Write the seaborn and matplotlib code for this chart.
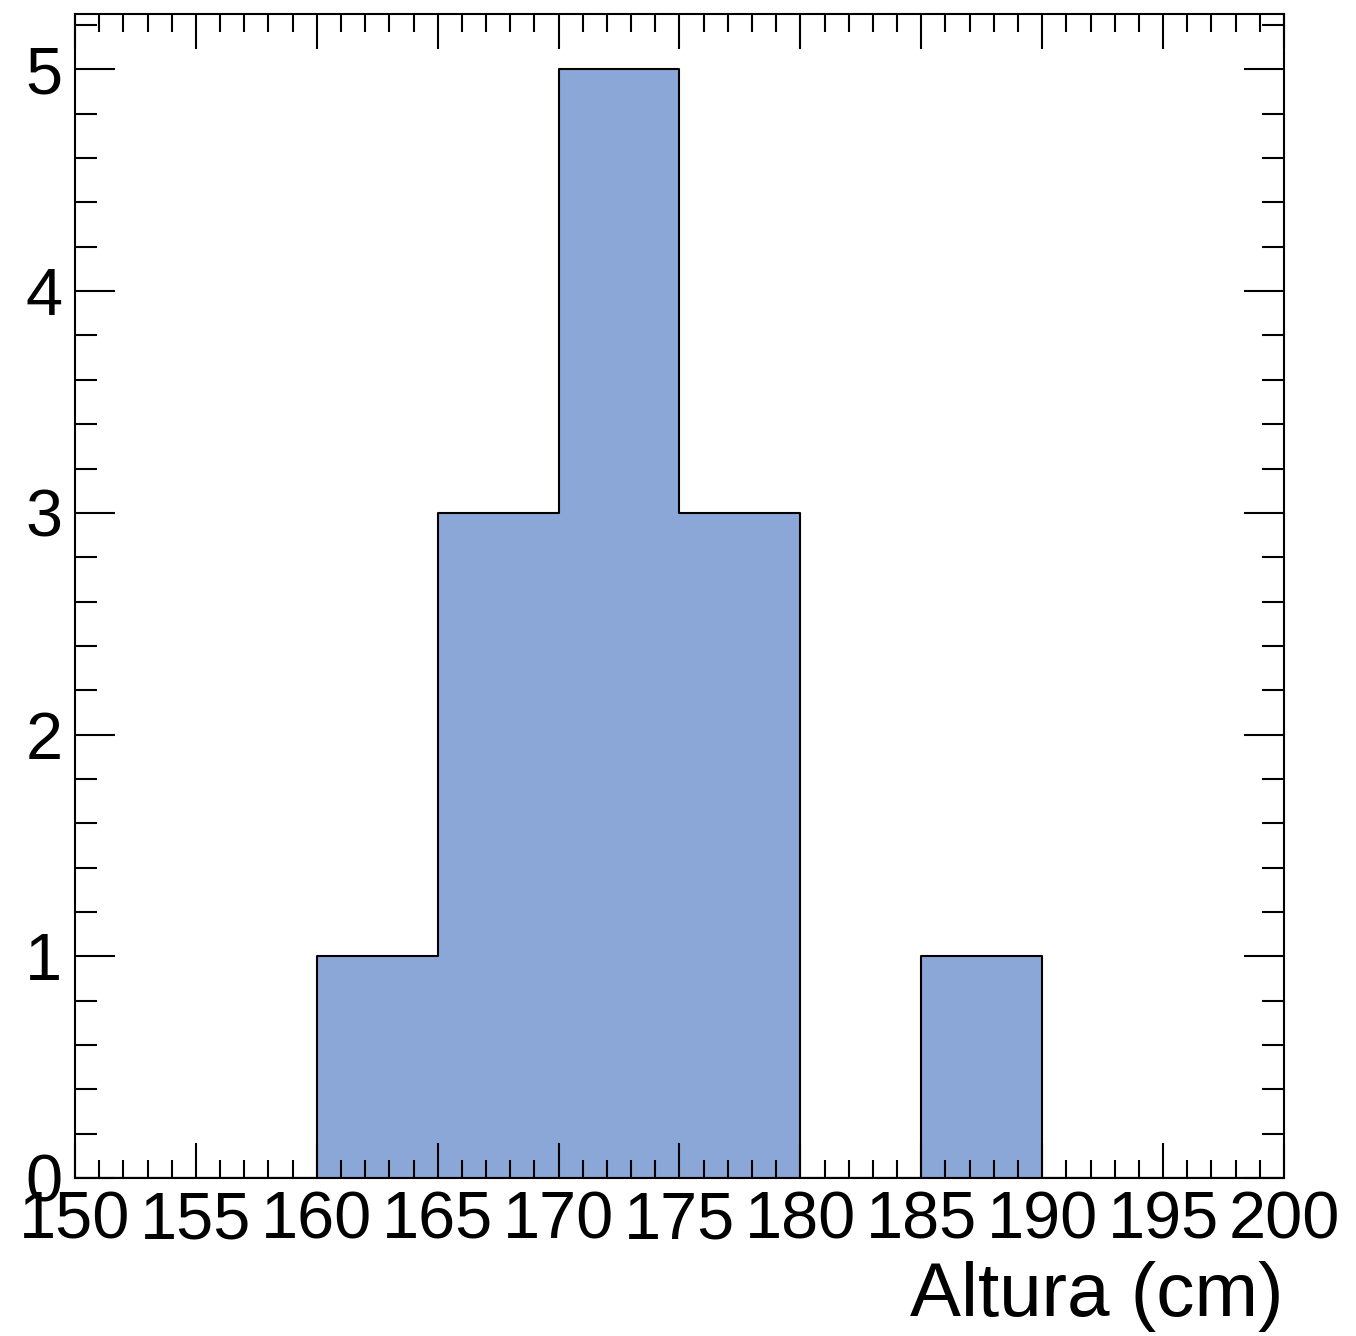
import numpy as np
import pandas as pd
import matplotlib
matplotlib.use("Agg")
import matplotlib.pyplot as plt
from matplotlib.ticker import MultipleLocator
import seaborn as sns

sns.set_style("ticks")
plt.rcParams['font.family'] = ['Liberation Sans', 'DejaVu Sans']
plt.rcParams['text.color'] = 'black'
plt.rcParams['axes.labelcolor'] = 'black'
plt.rcParams['xtick.color'] = 'black'
plt.rcParams['ytick.color'] = 'black'

# Height histogram (5 cm bins)
bin_centers = [162.5, 167.5, 172.5, 177.5, 187.5]
counts = [1, 3, 5, 3, 1]
x_range = (150, 200)
bin_width = 5
xlabel = "Altura (cm)"

df = pd.DataFrame({"altura": bin_centers, "n": counts})

fig = plt.figure(figsize=(13.56, 13.36), dpi=100)
ax = fig.add_axes([0.0553, 0.1183, 0.8916, 0.8712])

sns.histplot(data=df, x="altura", weights="n", binwidth=bin_width,
             binrange=x_range, element="step", fill=True,
             color="#8BA7D7", alpha=1, edgecolor="black",
             linewidth=1.5, ax=ax)

ax.set_xlim(*x_range)
ax.set_ylim(0, 5.25)
ax.set_axisbelow(False)

ax.xaxis.set_major_locator(MultipleLocator(5))
ax.xaxis.set_minor_locator(MultipleLocator(1))
ax.yaxis.set_major_locator(MultipleLocator(1))
ax.yaxis.set_minor_locator(MultipleLocator(0.2))

ax.tick_params(axis="both", which="both", direction="in",
               top=True, right=True, width=1.5, color="black",
               labelcolor="black")
ax.tick_params(axis="x", which="major", length=25, labelsize=48, pad=9)
ax.tick_params(axis="x", which="minor", length=13)
ax.tick_params(axis="y", which="major", length=29, labelsize=48, pad=9)
ax.tick_params(axis="y", which="minor", length=16)

for s in ax.spines.values():
    s.set_linewidth(1.5)
    s.set_color("black")

ax.set_ylabel("")
ax.set_xlabel(xlabel, fontsize=55, loc="right", labelpad=6, color="black")

fig.savefig("out.png", dpi=100)
